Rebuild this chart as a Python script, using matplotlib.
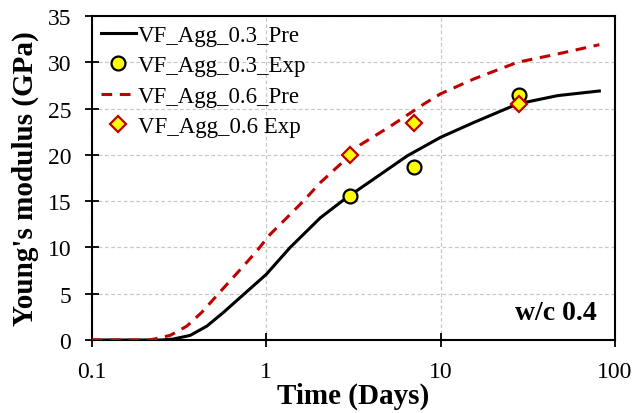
import matplotlib
matplotlib.use("Agg")
import matplotlib.pyplot as plt

plt.rcParams['font.family'] = ['Liberation Serif', 'DejaVu Serif']

# Predicted curves
t_pre_03 = [0.1, 0.2, 0.25, 0.292, 0.366, 0.456, 0.569, 0.709, 1.0, 1.37, 2.04, 2.85,
            4.14, 6.44, 10.0, 15.5, 27.6, 46.9, 81.3]
e_pre_03 = [0.0, 0.0, 0.0, 0.1, 0.5, 1.5, 3.0, 4.6, 7.1, 10.0, 13.2, 15.3,
            17.4, 19.9, 21.9, 23.5, 25.5, 26.4, 26.9]

t_pre_06 = [0.1, 0.18, 0.215, 0.281, 0.35, 0.427, 0.52, 0.62, 0.74, 0.88, 1.05, 1.31, 1.63,
            2.04, 3.0, 3.47, 5.16, 8.02, 10.0, 15.5, 27.6, 46.9, 81.3]
e_pre_06 = [0.0, 0.0, 0.0, 0.5, 1.5, 3.0, 4.8, 6.4, 8.0, 9.6, 11.4, 13.2, 15.0,
            17.0, 19.9, 21.1, 23.1, 25.5, 26.6, 28.2, 30.0, 30.9, 31.9]

# Experimental points
t_exp = [3, 7, 28]
e_exp_03 = [15.6, 18.7, 26.5]
e_exp_06 = [20.0, 23.4, 25.5]

x_ticks = [0.1, 1, 10, 100]
x_ticklabels = ['0.1', '1', '10', '100']
y_ticks = [0, 5, 10, 15, 20, 25, 30, 35]

fig = plt.figure(figsize=(6.33, 4.14), dpi=100)
ax = fig.add_axes([92/633, 1 - 341/414, (615-92)/633, (341-17)/414])

ax.plot(t_pre_03, e_pre_03, color='black', lw=2.2, label='VF_Agg_0.3_Pre', zorder=3)
ax.plot(t_exp, e_exp_03, linestyle='none', marker='o', markersize=10,
        markerfacecolor='#FFFF00', markeredgecolor='black', markeredgewidth=1.6,
        label='VF_Agg_0.3_Exp', zorder=4)
ax.plot(t_pre_06, e_pre_06, color='#C00000', lw=2.2, linestyle=(0, (3.5, 2.5)),
        label='VF_Agg_0.6_Pre', zorder=3)
ax.plot(t_exp, e_exp_06, linestyle='none', marker='D', markersize=8,
        markerfacecolor='#FFFF00', markeredgecolor='#C00000', markeredgewidth=1.6,
        label='VF_Agg_0.6 Exp', zorder=5)

ax.set_xscale('log')
ax.set_xlim(0.1, 100)
ax.set_ylim(0, 35)
ax.set_xticks(x_ticks)
ax.set_xticklabels(x_ticklabels)
ax.set_yticks(y_ticks)
ax.minorticks_off()
ax.tick_params(axis='both', which='major', direction='inout', length=10, width=1.3,
               labelsize=17, pad=10)
ax.tick_params(axis='x', pad=10)
ax.grid(True, which='major', color='#C8C8C8', linestyle=(0, (3, 2)), linewidth=0.9)
ax.set_axisbelow(True)
for s in ax.spines.values():
    s.set_linewidth(1.5)
    s.set_color('black')

ax.set_xlabel('Time (Days)', fontsize=21, fontweight='bold', labelpad=0)
ax.set_ylabel("Young's modulus (GPa)", fontsize=21, fontweight='bold', labelpad=6)

ax.text(0.965, 0.045, 'w/c 0.4', transform=ax.transAxes, ha='right', va='bottom',
        fontsize=20, fontweight='bold')

ax.legend(loc='upper left', frameon=False, fontsize=16.5, handlelength=1.5,
          handletextpad=0.1, borderaxespad=0.0, labelspacing=0.4,
          bbox_to_anchor=(0.0, 1.0))

fig.savefig('out.png', dpi=100)
